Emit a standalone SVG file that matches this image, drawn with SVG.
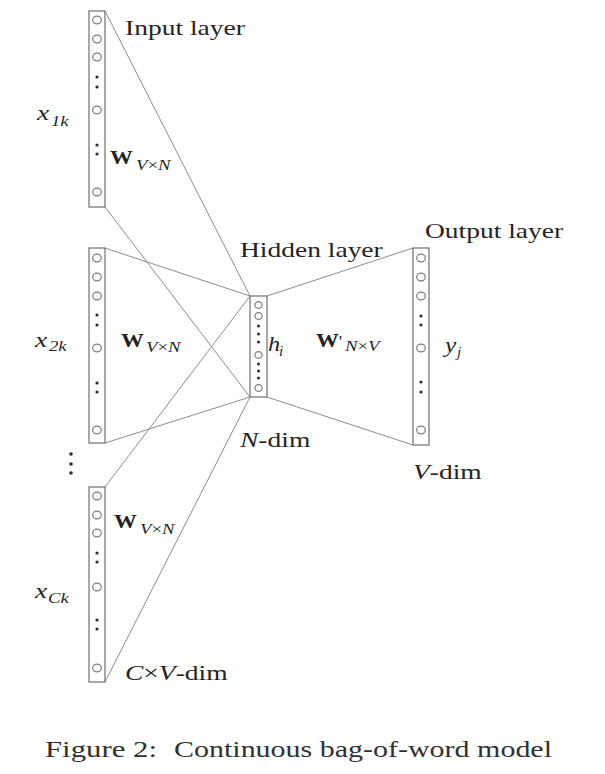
<svg xmlns="http://www.w3.org/2000/svg" width="605" height="774" viewBox="0 0 605 774">
<defs>
<style>
.bg{fill:#ffffff}
.col{fill:#ffffff;stroke:#7a7a7a;stroke-width:1.3}
.nd{fill:#ffffff;stroke:#7a7a7a;stroke-width:1.2}
.dt{fill:#2a2a2a}
.ln{stroke:#8c8c8c;stroke-width:1;fill:none}
text{font-family:"Liberation Serif","Times New Roman",serif;fill:#242424}
.lab{font-size:22px}
.it{font-style:italic}
.bw{font-weight:bold;font-size:19px}
.sub{font-size:15px;font-style:italic}
.cap{font-size:24px;fill:#303030}
</style>
</defs>
<rect class="bg" x="0" y="0" width="605" height="774"/>

<g id="connectors">
<line class="ln" x1="105" y1="11" x2="250" y2="296"/>
<line class="ln" x1="105" y1="207" x2="250" y2="397"/>
<line class="ln" x1="105" y1="248" x2="250" y2="296"/>
<line class="ln" x1="105" y1="443" x2="250" y2="397"/>
<line class="ln" x1="105" y1="487" x2="250" y2="296"/>
<line class="ln" x1="105" y1="682" x2="250" y2="397"/>
<line class="ln" x1="267" y1="296" x2="413" y2="248"/>
<line class="ln" x1="267" y1="397" x2="413" y2="445"/>
</g>

<g id="input1">
<rect class="col" x="89" y="11" width="16" height="196"/>
<ellipse class="nd" cx="97" cy="20" rx="4.3" ry="3.8"/>
<ellipse class="nd" cx="97" cy="39" rx="4.3" ry="3.8"/>
<ellipse class="nd" cx="97" cy="57" rx="4.3" ry="3.8"/>
<circle class="dt" cx="97" cy="77" r="1.6"/>
<circle class="dt" cx="97" cy="87" r="1.6"/>
<ellipse class="nd" cx="97" cy="110" rx="4.3" ry="3.8"/>
<circle class="dt" cx="97" cy="145" r="1.6"/>
<circle class="dt" cx="97" cy="154" r="1.6"/>
<ellipse class="nd" cx="97" cy="192" rx="4.3" ry="3.8"/>
</g>

<g id="input2">
<rect class="col" x="89" y="248" width="16" height="195"/>
<ellipse class="nd" cx="97" cy="258" rx="4.3" ry="3.8"/>
<ellipse class="nd" cx="97" cy="277" rx="4.3" ry="3.8"/>
<ellipse class="nd" cx="97" cy="296" rx="4.3" ry="3.8"/>
<circle class="dt" cx="97" cy="315" r="1.6"/>
<circle class="dt" cx="97" cy="325" r="1.6"/>
<ellipse class="nd" cx="97" cy="348" rx="4.3" ry="3.8"/>
<circle class="dt" cx="97" cy="383" r="1.6"/>
<circle class="dt" cx="97" cy="392" r="1.6"/>
<ellipse class="nd" cx="97" cy="430" rx="4.3" ry="3.8"/>
</g>

<g id="between-dots">
<circle class="dt" cx="71" cy="454" r="1.8"/>
<circle class="dt" cx="71" cy="464" r="1.8"/>
<circle class="dt" cx="71" cy="473" r="1.8"/>
</g>

<g id="input3">
<rect class="col" x="89" y="487" width="16" height="195"/>
<ellipse class="nd" cx="97" cy="496" rx="4.3" ry="3.8"/>
<ellipse class="nd" cx="97" cy="515" rx="4.3" ry="3.8"/>
<ellipse class="nd" cx="97" cy="533" rx="4.3" ry="3.8"/>
<circle class="dt" cx="97" cy="553" r="1.6"/>
<circle class="dt" cx="97" cy="562" r="1.6"/>
<ellipse class="nd" cx="97" cy="587" rx="4.3" ry="3.8"/>
<circle class="dt" cx="97" cy="620" r="1.6"/>
<circle class="dt" cx="97" cy="629" r="1.6"/>
<ellipse class="nd" cx="97" cy="668" rx="4.3" ry="3.8"/>
</g>

<g id="hidden">
<rect class="col" x="250" y="296" width="17" height="101"/>
<ellipse class="nd" cx="258.5" cy="305" rx="3.6" ry="3.4"/>
<ellipse class="nd" cx="258.5" cy="316" rx="3.6" ry="3.4"/>
<circle class="dt" cx="258.5" cy="326" r="1.5"/>
<circle class="dt" cx="258.5" cy="334" r="1.5"/>
<circle class="dt" cx="258.5" cy="342" r="1.5"/>
<ellipse class="nd" cx="258.5" cy="355" rx="3.6" ry="3.4"/>
<circle class="dt" cx="258.5" cy="364" r="1.5"/>
<circle class="dt" cx="258.5" cy="371" r="1.5"/>
<circle class="dt" cx="258.5" cy="378" r="1.5"/>
<ellipse class="nd" cx="258.5" cy="388" rx="3.6" ry="3.4"/>
</g>

<g id="output">
<rect class="col" x="413" y="248" width="16" height="197"/>
<ellipse class="nd" cx="421" cy="258" rx="4.3" ry="3.8"/>
<ellipse class="nd" cx="421" cy="277" rx="4.3" ry="3.8"/>
<ellipse class="nd" cx="421" cy="296" rx="4.3" ry="3.8"/>
<circle class="dt" cx="421" cy="316" r="1.6"/>
<circle class="dt" cx="421" cy="325" r="1.6"/>
<ellipse class="nd" cx="421" cy="348" rx="4.3" ry="3.8"/>
<circle class="dt" cx="421" cy="382" r="1.6"/>
<circle class="dt" cx="421" cy="392" r="1.6"/>
<ellipse class="nd" cx="421" cy="430" rx="4.3" ry="3.8"/>
</g>

<g id="labels">
<text class="lab" transform="translate(125,35) scale(1.25,1)">Input layer</text>
<text class="lab" transform="translate(240,257) scale(1.25,1)">Hidden layer</text>
<text class="lab" transform="translate(425,238) scale(1.25,1)">Output layer</text>
<text class="lab" transform="translate(240,447) scale(1.25,1)"><tspan class="it">N</tspan>-dim</text>
<text class="lab" transform="translate(413,479) scale(1.25,1)"><tspan class="it">V</tspan>-dim</text>
<text class="lab" transform="translate(125,680) scale(1.25,1)"><tspan class="it">C</tspan>×<tspan class="it">V</tspan>-dim</text>

<text class="lab it" transform="translate(37,120) scale(1.25,1)">x</text>
<text class="sub" transform="translate(51,126) scale(1.25,1)">1k</text>
<text class="lab it" transform="translate(35,347) scale(1.25,1)">x</text>
<text class="sub" transform="translate(49,351) scale(1.25,1)">2k</text>
<text class="lab it" transform="translate(35,598) scale(1.25,1)">x</text>
<text class="sub" transform="translate(48,603) scale(1.25,1)">Ck</text>

<text class="bw" transform="translate(110,164) scale(1.2,1)">W</text>
<text class="sub" transform="translate(136,170) scale(1.25,1)">V<tspan font-style="normal">×</tspan>N</text>
<text class="bw" transform="translate(121,347) scale(1.2,1)">W</text>
<text class="sub" transform="translate(146,352) scale(1.25,1)">V<tspan font-style="normal">×</tspan>N</text>
<text class="bw" transform="translate(114,528) scale(1.2,1)">W</text>
<text class="sub" transform="translate(140,534) scale(1.25,1)">V<tspan font-style="normal">×</tspan>N</text>

<text class="bw" transform="translate(316,347) scale(1.2,1)">W<tspan font-weight="normal" font-size="16px">'</tspan></text>
<text class="sub" transform="translate(345,351) scale(1.25,1)">N<tspan font-style="normal">×</tspan>V</text>

<text class="lab it" transform="translate(268,351) scale(1.1,1)">h</text>
<text class="sub" transform="translate(279,356)">i</text>
<text class="lab it" transform="translate(445,352) scale(1.15,1)">y</text>
<text class="sub" transform="translate(457,357)">j</text>
</g>

<g id="caption">
<text class="cap" x="45" y="757" textLength="112" lengthAdjust="spacingAndGlyphs">Figure 2:</text>
<text class="cap" x="174" y="757" textLength="378" lengthAdjust="spacingAndGlyphs">Continuous bag-of-word model</text>
</g>
</svg>
